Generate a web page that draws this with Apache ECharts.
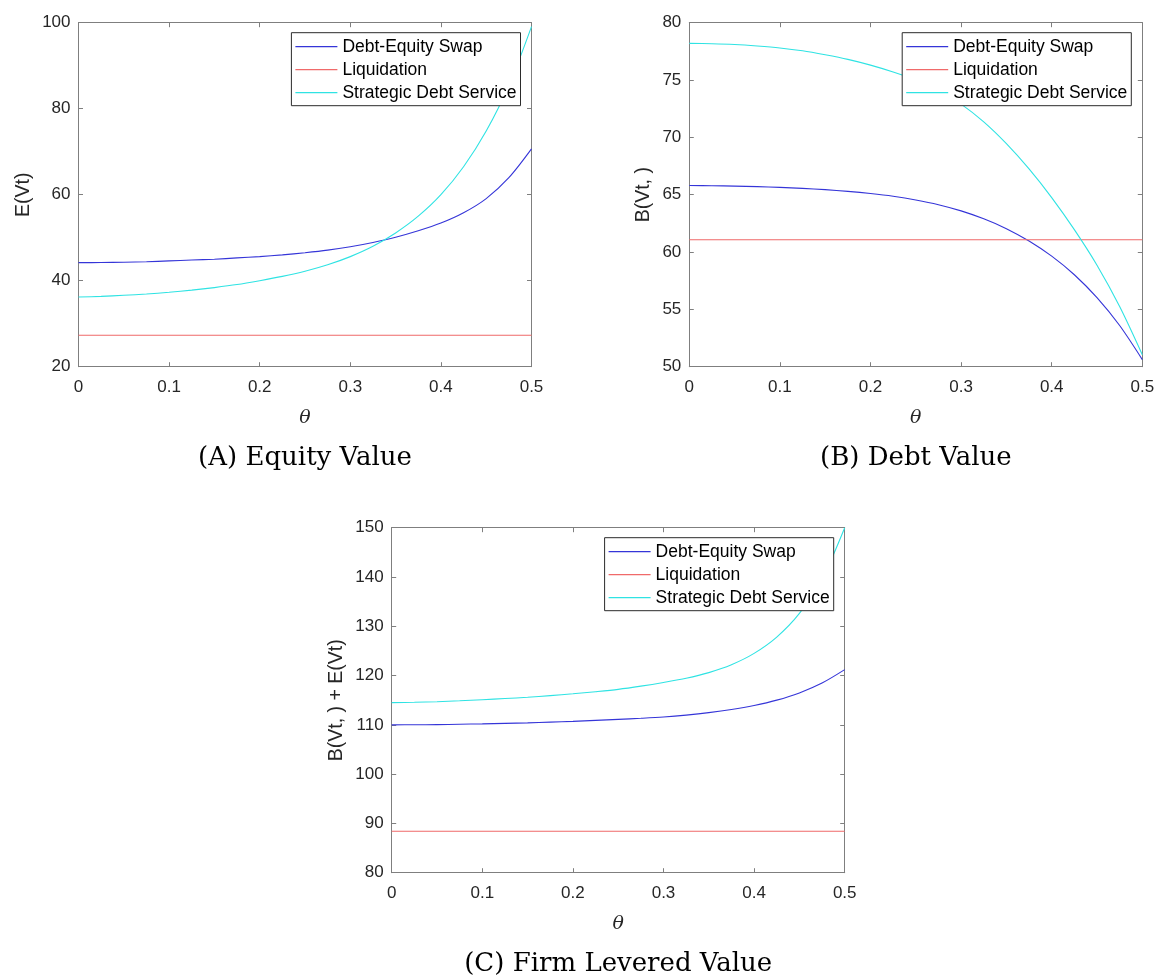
<!DOCTYPE html>
<html>
<head>
<meta charset="utf-8">
<script src="https://cdn.jsdelivr.net/npm/echarts@6/dist/echarts.min.js"></script>
<style>
  html, body { margin: 0; padding: 0; background: #fff; }
  #chart { width: 1158px; height: 976px; }
</style>
</head>
<body>
<div id="chart"></div>
<script>
// ---------- data ----------
const theta = [0, 0.025, 0.05, 0.075, 0.1, 0.125, 0.15, 0.175, 0.2, 0.225, 0.25,
               0.275, 0.3, 0.325, 0.35, 0.375, 0.4, 0.425, 0.45, 0.475, 0.5];

// (A) Equity value E(Vt)
const equitySwap = [44.2, 44.22, 44.3, 44.42, 44.6, 44.8, 45.0, 45.3, 45.6, 46.0, 46.5,
                    47.1, 47.9, 48.9, 50.1, 51.6, 53.4, 55.8, 59.1, 63.95, 70.65];
const equityLiq  = [27.3, 27.3, 27.3, 27.3, 27.3, 27.3, 27.3, 27.3, 27.3, 27.3, 27.3,
                    27.3, 27.3, 27.3, 27.3, 27.3, 27.3, 27.3, 27.3, 27.3, 27.3];
const equitySDS  = [36.2, 36.35, 36.6, 36.9, 37.3, 37.8, 38.4, 39.1, 40.0, 41.0, 42.2,
                    43.7, 45.6, 48.0, 51.1, 55.0, 60.0, 66.5, 74.8, 85.4, 99.1];

// (B) Debt value B(Vt, )
const debtSwap = [65.8, 65.78, 65.75, 65.7, 65.64, 65.55, 65.44, 65.29, 65.1, 64.86, 64.54,
                  64.13, 63.59, 62.9, 62.04, 60.96, 59.64, 58.02, 56.02, 53.59, 50.62];
const debtLiq  = [61.07, 61.07, 61.07, 61.07, 61.07, 61.07, 61.07, 61.07, 61.07, 61.07, 61.07,
                  61.07, 61.07, 61.07, 61.07, 61.07, 61.07, 61.07, 61.07, 61.07, 61.07];
const debtSDS  = [78.2, 78.17, 78.1, 77.97, 77.8, 77.55, 77.2, 76.8, 76.3, 75.7, 75.0,
                  74.1, 72.9, 71.35, 69.45, 67.25, 64.75, 61.95, 58.85, 55.25, 51.05];

// (C) Firm levered value B(Vt, ) + E(Vt)
const firmSwap = [110.0, 110.02, 110.05, 110.12, 110.2, 110.3, 110.4, 110.55, 110.7, 110.9, 111.1,
                  111.33, 111.6, 111.98, 112.47, 113.1, 113.92, 115.01, 116.48, 118.48, 121.2];
const firmLiq  = [88.4, 88.4, 88.4, 88.4, 88.4, 88.4, 88.4, 88.4, 88.4, 88.4, 88.4,
                  88.4, 88.4, 88.4, 88.4, 88.4, 88.4, 88.4, 88.4, 88.4, 88.4];
const firmSDS  = [114.5, 114.57, 114.7, 114.88, 115.1, 115.33, 115.6, 115.93, 116.3, 116.72, 117.2,
                  117.85, 118.6, 119.45, 120.6, 122.2, 124.5, 127.8, 132.6, 139.6, 150.0];

// tick labels
const xTicks  = [0, 0.1, 0.2, 0.3, 0.4, 0.5];
const yTicksA = [20, 40, 60, 80, 100];
const yTicksB = [50, 55, 60, 65, 70, 75, 80];
const yTicksC = [80, 90, 100, 110, 120, 130, 140, 150];

const seriesNames = ['Debt-Equity Swap', 'Liquidation', 'Strategic Debt Service'];
const panelTitles = ['(A) Equity Value', '(B) Debt Value', '(C) Firm Levered Value'];
const yNames = ['E(Vt)', 'B(Vt, )', 'B(Vt, ) + E(Vt)'];

// ---------- styling ----------
const COLORS = ['#3535d8', '#f06a6a', '#2fe3e3'];
const AXIS_COLOR = '#7f7f7f';
const TEXT_COLOR = '#262626';
const SANS = "'Liberation Sans', Arial, sans-serif";
const SERIF = "'DejaVu Serif', serif";

const grids = [
  { left: 78.5, top: 22.7, width: 453, height: 344 },
  { left: 689.3, top: 22.7, width: 453, height: 344 },
  { left: 391.7, top: 527.7, width: 453, height: 345 }
];
const yTickSets = [yTicksA, yTicksB, yTicksC];
const yNameGaps = [45, 36, 45];

const pair = (xs, ys) => xs.map((x, i) => [x, ys[i]]);
const panelData = [
  [equitySwap, equityLiq, equitySDS],
  [debtSwap, debtLiq, debtSDS],
  [firmSwap, firmLiq, firmSDS]
];

const xAxes = [], yAxes = [], series = [], legends = [], graphics = [];
const xMin = xTicks[0], xMax = xTicks[xTicks.length - 1], xInt = xTicks[1] - xTicks[0];

grids.forEach((g, gi) => {
  const yt = yTickSets[gi];
  const yMin = yt[0], yMax = yt[yt.length - 1], yInt = yt[1] - yt[0];
  xAxes.push({
    type: 'value', gridIndex: gi, position: 'bottom', min: xMin, max: xMax, interval: xInt,
    axisLine: { show: true, onZero: false, lineStyle: { color: AXIS_COLOR, width: 1 } },
    axisTick: { show: true, inside: true, length: 4.5, lineStyle: { color: AXIS_COLOR } },
    axisLabel: { show: true, margin: 12, color: TEXT_COLOR, fontFamily: SANS, fontSize: 17 },
    splitLine: { show: false },
    name: 'θ', nameLocation: 'middle', nameGap: 42,
    nameTextStyle: { fontFamily: SERIF, fontStyle: 'italic', fontSize: 19, color: TEXT_COLOR }
  });
  xAxes.push({
    type: 'value', gridIndex: gi, position: 'top', min: xMin, max: xMax, interval: xInt,
    axisLine: { show: true, onZero: false, lineStyle: { color: AXIS_COLOR, width: 1 } },
    axisTick: { show: true, inside: true, length: 4.5, lineStyle: { color: AXIS_COLOR } },
    axisLabel: { show: false }, splitLine: { show: false }
  });
  yAxes.push({
    type: 'value', gridIndex: gi, position: 'left', min: yMin, max: yMax, interval: yInt,
    axisLine: { show: true, onZero: false, lineStyle: { color: AXIS_COLOR, width: 1 } },
    axisTick: { show: true, inside: true, length: 4.5, lineStyle: { color: AXIS_COLOR } },
    axisLabel: { show: true, margin: 8, color: TEXT_COLOR, fontFamily: SANS, fontSize: 17 },
    splitLine: { show: false },
    name: yNames[gi], nameLocation: 'middle', nameGap: yNameGaps[gi],
    nameTextStyle: { fontFamily: SANS, fontSize: 19.5, color: TEXT_COLOR }
  });
  yAxes.push({
    type: 'value', gridIndex: gi, position: 'right', min: yMin, max: yMax, interval: yInt,
    axisLine: { show: true, onZero: false, lineStyle: { color: AXIS_COLOR, width: 1 } },
    axisTick: { show: true, inside: true, length: 4.5, lineStyle: { color: AXIS_COLOR } },
    axisLabel: { show: false }, splitLine: { show: false }
  });

  panelData[gi].forEach((ys, si) => {
    series.push({
      type: 'line', name: seriesNames[si],
      xAxisIndex: gi * 2, yAxisIndex: gi * 2,
      data: pair(theta, ys),
      showSymbol: false, symbol: 'none',
      smooth: 0.3,
      color: COLORS[si],
      lineStyle: { color: COLORS[si], width: 1.1 },
      silent: true, animation: false
    });
  });

  legends.push({
    data: seriesNames,
    orient: 'vertical',
    right: 1158 - (g.left + g.width - 11),
    top: g.top + 10,
    icon: 'rect', itemWidth: 42, itemHeight: 1.3, itemGap: 5,
    padding: [5, 4, 4, 4],
    backgroundColor: '#ffffff',
    borderColor: '#2b2b2b', borderWidth: 1, borderRadius: 0,
    textStyle: { fontFamily: SANS, fontSize: 17.5, color: '#000', lineHeight: 18 },
    selectedMode: false
  });

  graphics.push({
    type: 'text',
    x: g.left + g.width / 2,
    y: g.top + g.height + 92,
    style: {
      text: panelTitles[gi], fill: '#000',
      font: "26px 'DejaVu Serif', serif",
      align: 'center', verticalAlign: 'middle'
    }
  });
});

const chart = echarts.init(document.getElementById('chart'), null, { renderer: 'canvas' });
chart.setOption({
  backgroundColor: '#ffffff',
  animation: false,
  grid: grids.map(g => Object.assign({ containLabel: false }, g)),
  xAxis: xAxes,
  yAxis: yAxes,
  legend: legends,
  series: series,
  graphic: graphics
});
</script>
</body>
</html>
